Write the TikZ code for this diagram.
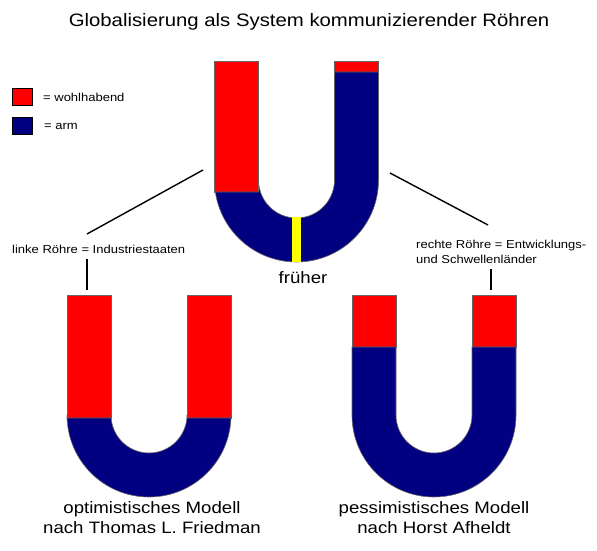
\documentclass[tikz,border=0pt]{standalone}
\usepackage{fontspec}
\setmainfont{Liberation Sans}[FakeStretch=1.13]
\definecolor{rich}{HTML}{FF0000}
\definecolor{poor}{HTML}{000080}
\definecolor{bar}{HTML}{FFFF00}
\begin{document}
\begin{tikzpicture}[x=1pt,y=1pt,
  rim/.style={draw=black!60,line width=0.6pt},
  conn/.style={draw=black,line width=1.4pt},
  small/.style={font=\fontsize{11.5}{15}\selectfont,inner sep=0pt},
  big/.style={font=\fontsize{16.5}{20}\selectfont,inner sep=0pt,align=center},
  legbox/.style={draw=black,line width=0.8pt}]
\useasboundingbox (0,0) rectangle (597,551);
\fill[white] (0,0) rectangle (597,551);
% title
\node[font=\fontsize{18}{22}\selectfont,inner sep=0pt] (title) at (309,529) {Globalisierung als System kommunizierender Röhren};
% legend
\filldraw[legbox,fill=rich] (12,446) rectangle (32,463);
\filldraw[legbox,fill=poor] (12,417) rectangle (32,434);
\node[small,anchor=west] (lw) at (43,454) {= wohlhabend};
\node[small,anchor=west] (la) at (44,425) {= arm};
% top U (früher)
\filldraw[rim,fill=rich] (214.5,490) rectangle (258.5,359);
\filldraw[rim,fill=rich] (334.5,490) rectangle (378.5,479);
\filldraw[rim,fill=poor] (214.5,359) -- (214.5,371) arc (180:360:82) -- (378.5,479) -- (334.5,479)
   -- (334.5,371) arc (0:-180:38) -- (258.5,359) -- cycle;
\fill[bar] (292,333.5) rectangle (301,289.3);
% bottom left U (optimistic)
\filldraw[rim,fill=rich] (67,256) rectangle (111,133);
\filldraw[rim,fill=rich] (187,256) rectangle (231,133);
\filldraw[rim,fill=poor] (67,133) -- (67,136) arc (180:360:82) -- (231,133) -- (187,133)
   -- (187,136) arc (0:-180:38) -- (111,133) -- cycle;
% bottom right U (pessimistic)
\filldraw[rim,fill=rich] (352,256) rectangle (396,204);
\filldraw[rim,fill=rich] (472,256) rectangle (516,204);
\filldraw[rim,fill=poor] (352,204) -- (352,136) arc (180:360:82) -- (516,204) -- (472,204)
   -- (472,136) arc (0:-180:38) -- (396,204) -- cycle;
% labels
\node[big] (fr) at (303,273) {früher};
\node[small,anchor=west] (lk) at (12,302) {linke Röhre = Industriestaaten};
\node[small,anchor=west,align=left] (rk) at (416,299.5) {rechte Röhre = Entwicklungs-\\und Schwellenländer};
\node[big] (opt) at (152,33) {optimistisches Modell\\nach Thomas L. Friedman};
\node[big] (pes) at (434,33) {pessimistisches Modell\\nach Horst Afheldt};
% connectors
\coordinate (tl) at (203,381);
\coordinate (tlend) at (87,317);
\coordinate (tr) at (390,378);
\coordinate (trend) at (488,326);
\coordinate (lv1) at (87,292);
\coordinate (lv2) at (87,261);
\coordinate (rv1) at (491,282);
\coordinate (rv2) at (491,261);
\draw[conn] (tl) -- (tlend);
\draw[conn] (tr) -- (trend);
\draw[conn] (lv1) -- (lv2);
\draw[conn] (rv1) -- (rv2);
\end{tikzpicture}
\end{document}
